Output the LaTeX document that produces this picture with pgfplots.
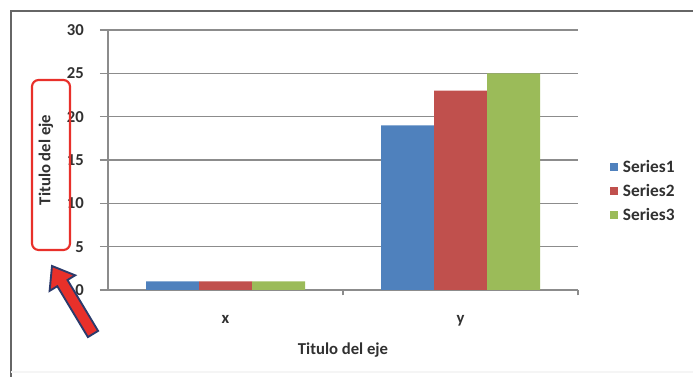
\documentclass[border=0pt]{standalone}
\usepackage{fontspec}
\setmainfont{Carlito}
\usepackage{pgfplots}
\pgfplotsset{compat=1.18}
\definecolor{sA}{HTML}{4F81BD}
\definecolor{sB}{HTML}{C0504D}
\definecolor{sC}{HTML}{9BBB59}
\definecolor{gridgray}{HTML}{8C8C8C}
\definecolor{txt}{HTML}{303030}
\definecolor{annred}{HTML}{E8302A}
\definecolor{annnavy}{HTML}{2B3A6B}
\begin{document}
\begin{tikzpicture}[x=0.75pt,y=-0.75pt]
\path[use as bounding box] (0,0) rectangle (693,377);
\draw[gray!80!black, line width=1.6pt] (693,11) -- (11,11) -- (11,377);
\draw[gray!8, line width=1pt] (11,372) -- (693,372);
\begin{axis}[
  at={(81pt,-217.5pt)}, anchor=south west,
  scale only axis, width=352.5pt, height=195pt,
  /pgf/number format/assume math mode=true,
  ybar=0pt, bar width=39.75pt,
  xmin=-0.5, xmax=1.5, ymin=0, ymax=30,
  xtick={0,1}, xticklabels={x,y},
  ytick={0,5,10,15,20,25,30},
  ymajorgrids, grid style={color=gridgray, line width=0.8pt},
  axis x line*=bottom, axis y line*=left,
  axis line style={gridgray, line width=0.8pt, -},
  major x tick style={draw=none},
  extra x ticks={0.5,1.5}, extra x tick labels={,},
  extra x tick style={grid=none, major tick length=4pt, tick align=outside, major x tick style={draw=gridgray, line width=0.8pt}},
  ytick pos=left, tick align=outside, major tick length=6pt,
  major y tick style={draw=gridgray, line width=0.8pt},
  tick label style={font=\fontsize{12.5}{14}\selectfont\bfseries, text=txt},
  xticklabel style={anchor=base, yshift=-19.5pt},
  yticklabel style={anchor=east, inner sep=0pt, xshift=-12pt},
  legend style={at={(1.068,0.50)}, anchor=north west, draw=none, fill=none,
    font=\fontsize{13}{15}\selectfont\bfseries, text=txt,
    row sep=6pt, inner sep=0pt,
    nodes={inner xsep=3.5pt, inner ysep=0pt, text height=9pt, text depth=3pt, anchor=west}},
  legend cell align=left,
  legend image code/.code={\fill[#1] (0pt,-2pt) rectangle (6pt,4pt);},
]
\addplot[fill=sA, draw=none] coordinates {(0,1) (1,19)};
\addplot[fill=sB, draw=none] coordinates {(0,1) (1,23)};
\addplot[fill=sC, draw=none] coordinates {(0,1) (1,25)};
\legend{Series1,Series2,Series3}
\end{axis}
\node[font=\fontsize{12.5}{14}\selectfont\bfseries, text=txt] at (343,350) {Titulo del eje};
\node[rotate=90, font=\fontsize{12.5}{14}\selectfont\bfseries, text=txt] at (46,160) {Titulo del eje};
\draw[annred, line width=1.6pt, rounded corners=5pt] (32,80) rectangle (70,250);
\filldraw[fill=annred, draw=annnavy, line width=1.4pt, line join=miter]
  (52,266) -- (75.2,275.3) -- (67.5,280) -- (98.1,330.9) -- (87.9,337.1) -- (57.3,286.2) -- (49.6,290.9) -- cycle;
\end{tikzpicture}
\end{document}
